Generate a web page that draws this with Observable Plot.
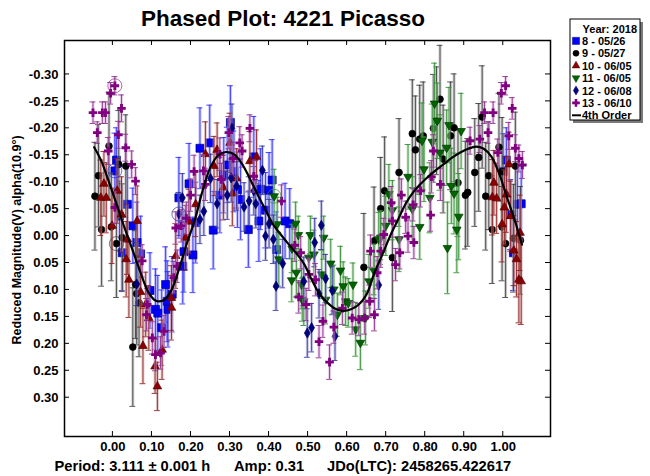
<!DOCTYPE html>
<html><head><meta charset="utf-8">
<script src="https://cdn.jsdelivr.net/npm/d3@7"></script>
<script src="https://cdn.jsdelivr.net/npm/@observablehq/plot@0.6"></script>
<style>
body{margin:0;background:#fff;}
#chart svg text{font-family:Arial,"Liberation Sans",sans-serif;font-weight:bold;fill:#000;}
</style></head><body><div id="chart"></div>
<script>
const xTicks = [0, 0.1, 0.2, 0.3, 0.4, 0.5, 0.6, 0.7, 0.8, 0.9, 1.0];
const yTicks = [-0.30, -0.25, -0.20, -0.15, -0.10, -0.05, 0, 0.05, 0.10, 0.15, 0.20, 0.25, 0.30];
const seriesNames = ["8 - 05/26", "9 - 05/27", "10 - 06/05", "11 - 06/05", "12 - 06/08", "13 - 06/10"];
const legendTitle = "Year: 2018";
const fitName = "4th Order";
const title = "Phased Plot: 4221 Picasso";
const yLabel = "Reduced Magnitude(V) alpha(10.9°)";
const footer = ["Period: 3.111 ± 0.001 h", "Amp: 0.31", "JDo(LTC): 2458265.422617"];

// [phase, reduced magnitude, error]
const s8 = [[0.009,-0.141,0.06],[0.005,-0.121,0.07],[0.037,-0.059,0.07],[0.017,-0.037,0.065],[0.051,-0.019,0.07],[0.062,0.012,0.075],[0.024,0.031,0.07],[0.071,0.033,0.07],[0.095,0.101,0.07],[0.109,0.136,0.075],[0.115,0.143,0.07],[0.135,0.090,0.07],[0.139,0.121,0.075],[0.141,0.136,0.07],[0.152,0.108,0.07],[0.125,0.170,0.07],[0.169,-0.071,0.075],[0.179,0.056,0.07],[0.182,0.029,0.075],[0.205,0.035,0.07],[0.212,-0.025,0.075],[0.195,-0.097,0.075],[0.223,-0.163,0.075],[0.248,-0.173,0.07],[0.301,-0.211,0.068],[0.293,-0.132,0.07],[0.284,-0.113,0.07],[0.310,-0.120,0.075],[0.274,-0.076,0.07],[0.319,-0.086,0.07],[0.327,-0.068,0.075],[0.361,-0.147,0.075],[0.378,-0.087,0.075],[0.400,-0.085,0.07],[0.408,-0.104,0.075],[0.374,-0.028,0.075],[0.391,-0.048,0.07],[0.347,-0.012,0.07],[0.257,-0.011,0.072],[0.419,0.025,0.07],[0.441,-0.028,0.07],[0.453,-0.023,0.065],[1.008,-0.141,0.06],[1.000,-0.120,0.07],[1.036,-0.059,0.07],[1.046,-0.060,0.07],[1.019,-0.040,0.065],[1.026,0.031,0.07]];
const s9 = [[-0.010,-0.167,0.10],[-0.037,-0.112,0.095],[-0.046,-0.074,0.10],[-0.029,-0.012,0.105],[-0.004,-0.017,0.10],[0.015,-0.133,0.10],[0.033,-0.130,0.095],[0.009,0.014,0.10],[0.024,0.003,0.10],[0.058,0.090,0.10],[0.067,0.124,0.10],[0.061,0.107,0.095],[0.051,0.206,0.11],[0.643,0.058,0.10],[0.669,0.009,0.10],[0.686,-0.051,0.095],[0.696,-0.084,0.10],[0.716,0.040,0.10],[0.733,-0.118,0.10],[0.767,-0.190,0.10],[0.775,-0.160,0.10],[0.786,-0.180,0.10],[0.795,-0.186,0.10],[0.821,-0.200,0.10],[0.829,-0.214,0.10],[0.838,-0.254,0.10],[0.846,-0.143,0.10],[0.865,-0.186,0.10],[0.874,-0.201,0.10],[0.884,-0.099,0.10],[0.903,-0.076,0.10],[0.909,-0.081,0.10],[0.927,-0.118,0.10],[0.937,-0.146,0.10],[0.946,-0.221,0.095],[0.955,-0.074,0.10],[0.963,-0.112,0.10],[0.972,-0.012,0.10],[0.989,-0.165,0.10],[0.997,-0.120,0.10],[0.997,-0.017,0.10],[1.006,0.014,0.10],[1.026,0.004,0.10],[1.031,-0.130,0.10],[1.044,0.008,0.10]];
const s10 = [[-0.023,-0.097,0.06],[-0.031,-0.071,0.07],[-0.017,-0.071,0.065],[-0.002,-0.019,0.07],[0.011,-0.084,0.06],[0.022,-0.040,0.07],[0.037,0.006,0.065],[0.034,0.043,0.07],[0.041,0.081,0.07],[0.062,-0.028,0.065],[0.071,0.104,0.065],[0.084,0.127,0.06],[0.077,0.204,0.07],[0.092,0.152,0.06],[0.108,0.242,0.05],[0.114,0.279,0.045],[0.126,0.211,0.055],[0.150,0.115,0.06],[0.150,0.133,0.06],[0.161,0.037,0.06],[0.186,0.003,0.06],[0.195,-0.027,0.06],[0.212,-0.059,0.06],[0.237,-0.152,0.06],[0.259,-0.130,0.055],[0.267,-0.160,0.05],[0.283,-0.090,0.06],[0.300,-0.173,0.055],[0.306,-0.079,0.06],[0.317,-0.107,0.055],[0.351,-0.139,0.055],[0.368,-0.147,0.05],[0.976,-0.099,0.06],[0.972,-0.072,0.07],[0.983,-0.070,0.065],[1.008,-0.077,0.07],[1.015,-0.133,0.06],[1.003,-0.053,0.07],[0.997,-0.022,0.07],[1.019,-0.037,0.065],[1.027,0.027,0.065],[1.034,0.043,0.07],[1.040,0.081,0.08],[1.046,0.084,0.08],[1.043,-0.006,0.07]];
const s11 = [[0.413,-0.074,0.05],[0.421,-0.022,0.05],[0.425,0.043,0.05],[0.459,0.023,0.045],[0.468,-0.023,0.04],[0.475,-0.002,0.035],[0.470,0.068,0.045],[0.458,0.082,0.04],[0.483,0.090,0.045],[0.485,0.118,0.04],[0.489,0.121,0.045],[0.502,0.040,0.045],[0.506,-0.002,0.035],[0.515,0.034,0.045],[0.535,0.071,0.045],[0.540,0.003,0.04],[0.545,0.118,0.045],[0.558,0.051,0.045],[0.566,0.099,0.045],[0.575,0.146,0.04],[0.583,0.064,0.045],[0.590,0.093,0.045],[0.596,0.121,0.045],[0.603,0.124,0.045],[0.615,0.090,0.04],[0.622,0.173,0.05],[0.634,0.198,0.05],[0.647,0.152,0.05],[0.656,0.084,0.05],[0.669,0.065,0.05],[0.681,0.006,0.05],[0.686,0.003,0.05],[0.699,-0.019,0.055],[0.707,-0.078,0.055],[0.716,-0.048,0.055],[0.733,0.006,0.06],[0.756,-0.110,0.06],[0.767,-0.050,0.06],[0.786,-0.017,0.06],[0.792,-0.177,0.07],[0.797,-0.124,0.06],[0.812,-0.071,0.065],[0.818,-0.175,0.07],[0.824,-0.246,0.075],[0.831,-0.214,0.07],[0.838,-0.155,0.07],[0.855,-0.164,0.07],[0.857,0.022,0.085],[0.861,-0.206,0.07],[0.867,-0.093,0.07],[0.874,-0.079,0.075],[0.881,-0.012,0.08],[0.886,-0.036,0.08],[0.892,-0.195,0.07]];
const s12 = [[0.061,0.089,0.04],[0.169,-0.041,0.04],[0.178,-0.071,0.045],[0.223,-0.031,0.045],[0.233,-0.046,0.045],[0.250,-0.107,0.045],[0.267,-0.060,0.045],[0.293,-0.076,0.045],[0.303,-0.108,0.045],[0.305,-0.200,0.045],[0.317,-0.093,0.045],[0.336,-0.054,0.045],[0.349,-0.065,0.045],[0.361,-0.084,0.045],[0.366,-0.060,0.045],[0.383,-0.122,0.045],[0.391,0.000,0.045],[0.400,-0.023,0.045],[0.411,0.006,0.045],[0.418,0.093,0.045],[0.435,0.051,0.045],[0.489,0.084,0.045],[0.498,0.180,0.045],[0.509,0.170,0.045],[0.517,0.012,0.045],[0.528,0.107,0.045],[0.534,-0.020,0.045],[0.545,0.079,0.045],[0.562,0.101,0.045],[0.569,0.186,0.045],[0.681,0.091,0.045]];
const s13 = [[0.005,-0.279,0.017],[-0.006,-0.265,0.02],[-0.051,-0.229,0.02],[-0.027,-0.229,0.02],[-0.019,-0.229,0.02],[0.022,-0.237,0.025],[-0.040,-0.192,0.02],[0.014,-0.188,0.025],[-0.012,-0.158,0.025],[0.033,-0.164,0.025],[0.048,-0.133,0.025],[0.058,-0.102,0.025],[0.005,-0.053,0.03],[0.075,0.046,0.03],[0.086,0.146,0.03],[0.088,0.127,0.03],[0.101,0.189,0.03],[0.109,0.220,0.03],[0.122,0.217,0.03],[0.131,0.177,0.03],[0.156,0.077,0.03],[0.161,-0.015,0.03],[0.165,0.056,0.03],[0.175,-0.019,0.03],[0.188,-0.033,0.03],[0.199,-0.076,0.03],[0.208,-0.120,0.03],[0.232,-0.121,0.03],[0.237,-0.096,0.03],[0.274,-0.152,0.03],[0.278,-0.105,0.03],[0.297,-0.192,0.03],[0.308,-0.144,0.03],[0.325,-0.173,0.03],[0.331,-0.158,0.03],[0.351,-0.200,0.025],[0.361,-0.111,0.03],[0.432,-0.065,0.03],[0.466,0.017,0.03],[0.476,0.113,0.03],[0.481,0.031,0.03],[0.495,0.127,0.03],[0.502,0.071,0.03],[0.519,0.081,0.03],[0.528,0.196,0.03],[0.538,0.158,0.03],[0.555,0.234,0.032],[0.566,0.169,0.03],[0.588,0.134,0.03],[0.613,0.152,0.03],[0.630,0.155,0.03],[0.645,0.152,0.03],[0.658,0.121,0.03],[0.660,0.028,0.03],[0.670,0.146,0.03],[0.677,0.068,0.03],[0.686,0.028,0.03],[0.694,-0.003,0.03],[0.713,-0.062,0.03],[0.716,-0.028,0.03],[0.724,0.053,0.03],[0.735,0.031,0.03],[0.739,-0.076,0.03],[0.750,-0.035,0.03],[0.756,0.000,0.03],[0.769,-0.058,0.03],[0.771,0.012,0.03],[0.788,-0.084,0.03],[0.814,-0.039,0.03],[0.816,-0.110,0.03],[0.821,-0.158,0.03],[0.839,-0.096,0.03],[0.915,-0.177,0.025],[0.940,-0.180,0.025],[0.952,-0.229,0.02],[0.961,-0.192,0.02],[0.974,-0.229,0.02],[0.986,-0.155,0.025],[0.995,-0.265,0.02],[1.006,-0.279,0.017],[1.014,-0.186,0.025],[1.023,-0.237,0.02],[1.031,-0.163,0.025],[1.040,-0.144,0.025],[1.049,-0.132,0.025]];

// 4th order fit
const fitPhase = [-0.048,-0.03,-0.01,0.01,0.03,0.05,0.07,0.09,0.11,0.13,0.15,0.17,0.19,0.21,0.23,0.25,0.27,0.29,0.31,0.33,0.35,0.37,0.39,0.41,0.43,0.45,0.47,0.49,0.51,0.53,0.55,0.57,0.59,0.61,0.63,0.65,0.67,0.69,0.71,0.73,0.75,0.77,0.79,0.81,0.83,0.85,0.87,0.89,0.91,0.93,0.95,0.97,0.99,1.01,1.03,1.048];
const fitMag = [-0.165,-0.140,-0.100,-0.058,-0.015,0.025,0.066,0.103,0.120,0.119,0.100,0.060,0.012,-0.030,-0.085,-0.128,-0.150,-0.156,-0.152,-0.135,-0.108,-0.078,-0.050,-0.022,-0.003,0.015,0.032,0.052,0.082,0.108,0.124,0.135,0.139,0.136,0.127,0.108,0.068,0.035,0.000,-0.030,-0.060,-0.082,-0.098,-0.112,-0.124,-0.135,-0.146,-0.155,-0.162,-0.166,-0.162,-0.147,-0.115,-0.071,-0.028,0.016];

// highlighted (circled) observations: [phase, mag, series index]
const rings = [[0.005,-0.279,5],[0.005,-0.121,0],[0.169,-0.041,4],[0.413,-0.074,3],[0.009,0.014,1]];

const seriesData = [s8, s9, s10, s11, s12, s13];
const styles = [
  {symbol:"square", fill:"#0000ff", stroke:"#000080", sw:0.7, r:4.5, rot:0, err:"#2a2aff", halo:"#8c8cff"},
  {symbol:"circle", fill:"#000000", stroke:"#000000", sw:0.7, r:3.4, rot:0, err:"#3a3a3a", halo:"#a0a0a0"},
  {symbol:"triangle", fill:"#8b0000", stroke:"#5a0000", sw:0.7, r:3.2, rot:0, err:"#8b1a1a", halo:"#d09a9a"},
  {symbol:"triangle", fill:"#006400", stroke:"#003a00", sw:0.7, r:3.2, rot:180, err:"#2e8b2e", halo:"#9ed09e"},
  {symbol:"diamond", fill:"#000080", stroke:"#000060", sw:0.7, r:3.1, rot:0, err:"#3030a0", halo:"#9a9ad0"},
  {symbol:"cross", fill:"#800080", stroke:"none", sw:0, r:3.6, rot:0, err:"#8b2a8b", halo:"#d8a0d8"}
];

const L = 64, R = 550, T = 40, B = 436;
const marks = [];
seriesData.forEach((arr, i) => {
  const st = styles[i];
  const rows = arr.map(([p, m, e]) => ({p, m, e}));
  marks.push(Plot.ruleX(rows, {x: "p", y1: d => d.m - d.e, y2: d => d.m + d.e, stroke: st.halo, strokeWidth: 3, strokeOpacity: 0.5}));
  marks.push(Plot.ruleX(rows, {x: "p", y1: d => d.m - d.e, y2: d => d.m + d.e, stroke: st.err, strokeWidth: 1, strokeOpacity: 0.85}));
  marks.push(Plot.ruleY(rows, {y: d => d.m - d.e, x1: d => d.p - 0.0075, x2: d => d.p + 0.0075, stroke: st.err, strokeWidth: 1, strokeOpacity: 0.85}));
  marks.push(Plot.ruleY(rows, {y: d => d.m + d.e, x1: d => d.p - 0.0075, x2: d => d.p + 0.0075, stroke: st.err, strokeWidth: 1, strokeOpacity: 0.85}));
  marks.push(Plot.dot(rows, {x: "p", y: "m", symbol: st.symbol, r: st.r, fill: st.fill, stroke: st.stroke, strokeWidth: st.sw, rotate: st.rot}));
});
const ringRows = rings.map(([p, m, k]) => ({p, m, k}));
marks.push(Plot.dot(ringRows, {x: "p", y: "m", r: 7, stroke: d => styles[d.k].err, strokeWidth: 1, strokeOpacity: 0.7, fill: "none"}));
const fitRows = fitPhase.map((p, i) => ({p, m: fitMag[i]}));
marks.push(Plot.line(fitRows, {x: "p", y: "m", stroke: "#000", strokeWidth: 2.2, curve: "catmull-rom"}));
marks.push(Plot.frame({stroke: "#000", strokeWidth: 1.5}));
marks.push(Plot.axisX(xTicks, {tickFormat: d => d.toFixed(2), tickSize: 0, tickPadding: 5, label: null, fontSize: 13}));
marks.push(Plot.axisY(yTicks, {tickFormat: d => d.toFixed(2), tickSize: 0, tickPadding: 6, label: null, fontSize: 13}));

const plot = Plot.plot({
  width: 650, height: 476,
  marginLeft: L, marginRight: 650 - R, marginTop: T, marginBottom: 476 - B,
  x: {domain: [-0.124, 1.121]},
  y: {domain: [0.372, -0.363]},
  style: {background: "#fff", fontFamily: "Arial, 'Liberation Sans', sans-serif"},
  marks
});
document.getElementById("chart").appendChild(plot);

const svg = d3.select(plot);
const xs = plot.scale("x"), ys = plot.scale("y");
const tg = svg.append("g").attr("stroke", "#000").attr("stroke-width", 1);
xTicks.forEach(t => {
  const X = xs.apply(t);
  tg.append("line").attr("x1", X).attr("x2", X).attr("y1", B).attr("y2", B - 5);
  tg.append("line").attr("x1", X).attr("x2", X).attr("y1", T).attr("y2", T + 5);
});
yTicks.forEach(t => {
  const Y = ys.apply(t);
  tg.append("line").attr("x1", L).attr("x2", L + 5).attr("y1", Y).attr("y2", Y);
  tg.append("line").attr("x1", R).attr("x2", R - 5).attr("y1", Y).attr("y2", Y);
});

// title, y label, footer
svg.append("text").attr("x", 283).attr("y", 26).attr("text-anchor", "middle").style("font-size", "22.5px").text(title);
svg.append("text").attr("transform", "translate(21,240) rotate(-90)").attr("text-anchor", "middle").style("font-size", "12.5px").text(yLabel);
const fx = [54.5, 234, 327];
footer.forEach((s, i) => svg.append("text").attr("x", fx[i]).attr("y", 471).attr("text-anchor", "start").style("font-size", "14.7px").text(s));

// legend
const rowH = 12.4, y0 = 28.5;
const lg = svg.append("g").attr("text-anchor", "start");
lg.append("rect").attr("x", 573).attr("y", 22).attr("width", 70).attr("height", 101).attr("fill", "#7a7a7a");
lg.append("rect").attr("x", 570).attr("y", 19).attr("width", 70).attr("height", 101).attr("fill", "#fff").attr("stroke", "#000").attr("stroke-width", 1);
lg.append("text").attr("x", 637).attr("y", y0 + 4).attr("text-anchor", "end").style("font-size", "11px").text(legendTitle);
const symMap = {square: d3.symbolSquare, circle: d3.symbolCircle, triangle: d3.symbolTriangle, diamond: d3.symbolDiamond, cross: d3.symbolCross};
seriesNames.forEach((name, i) => {
  const st = styles[i];
  const cy = y0 + (i + 1) * rowH;
  const size = Math.PI * st.r * st.r * 0.8;
  lg.append("path").attr("d", d3.symbol(symMap[st.symbol], size)())
    .attr("transform", `translate(576,${cy}) rotate(${st.rot})`)
    .attr("fill", st.fill).attr("stroke", st.stroke).attr("stroke-width", 0.5);
  lg.append("text").attr("x", 582).attr("y", cy + 4).attr("text-anchor", "start").style("font-size", "11px").text(name);
});
const fy = y0 + 7 * rowH;
lg.append("line").attr("x1", 572).attr("x2", 581).attr("y1", fy).attr("y2", fy).attr("stroke", "#000").attr("stroke-width", 2);
lg.append("text").attr("x", 582).attr("y", fy + 4).attr("text-anchor", "start").style("font-size", "11px").text(fitName);
</script></body></html>
